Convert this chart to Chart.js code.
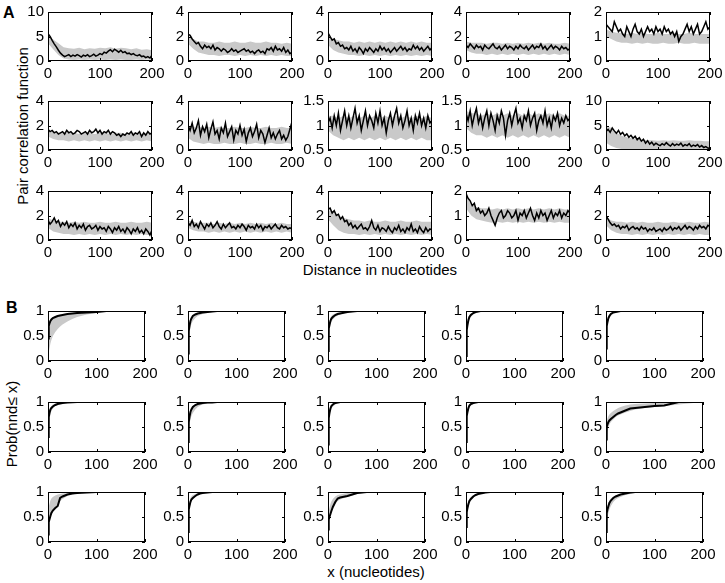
<!DOCTYPE html>
<html><head><meta charset="utf-8">
<script src="https://cdn.jsdelivr.net/npm/chart.js@4/dist/chart.umd.min.js"></script>
<style>
html,body{margin:0;padding:0;background:#fff;}
body{width:725px;height:583px;position:relative;overflow:hidden;font-family:"Liberation Sans",Arial,Helvetica,sans-serif;color:#000;}
canvas{position:absolute;}
.t{position:absolute;font-size:15px;line-height:15px;white-space:nowrap;}
.lab{position:absolute;font-size:16px;line-height:16px;font-weight:bold;}
.rot{transform:translate(-50%,-50%) rotate(-90deg);}
.ctr{transform:translate(-50%,-50%);}
</style></head><body>
<div class="lab" style="left:3px;top:5px;">A</div>
<div class="lab" style="left:6px;top:300px;">B</div>
<div class="t rot" style="left:22px;top:126px;">Pair correlation function</div>
<div class="t rot" style="left:11px;top:424px;">Prob(nnd≤ x)</div>
<div class="t ctr" style="left:380px;top:269px;">Distance in nucleotides</div>
<div class="t ctr" style="left:376px;top:571px;">x (nucleotides)</div>
<script>
// ---------- shared x positions ----------
const aX = [0,4,8,12,16,20,24,28,32,36,40,44,48,52,56,60,64,68,72,76,80,84,88,92,96,100,104,108,112,116,120,124,128,132,136,140,144,148,152,156,160,164,168,172,176,180,184,188,192,196,200];
const bandX = [0,10,20,30,40,50,60,70,80,90,100,110,120,130,140,150,160,170,180,190,200];
const bX = [0,1,2,3,5,7,10,15,20,25,30,40,50,60,80,100,120,150,180,200];
const xTicks = [0,100,200];

// ---------- panel A: y ranges ----------
const aYMin = [0,0,0,0,0, 0,0,0.5,0.5,0, 0,0,0,0,0];
const aYMax = [10,4,4,4,2, 4,4,1.5,1.5,10, 4,4,4,2,4];

// ---------- panel A data ----------
const a1Line = [5.6,5.0,4.2,3.5,2.9,2.2,1.6,1.2,0.9,1.1,1.3,0.9,1.2,1.0,1.3,1.1,0.8,1.2,1.0,1.3,0.9,1.1,1.4,1.0,1.2,1.5,1.3,1.8,1.6,2.0,2.3,1.9,2.4,2.1,1.8,2.2,1.7,1.9,1.5,1.6,1.3,1.5,1.2,1.1,1.3,0.9,1.0,0.7,0.9,0.6,1.2];
const a1Hi = [5.0,4.4,3.6,2.8,2.6,2.5,2.7,2.4,2.6,2.5,2.7,2.6,2.8,2.5,2.7,2.6,2.4,2.6,2.3,2.4,2.2];
const a1Lo = [3.6,2.4,1.2,0.5,0.3,0.2,0.3,0.2,0.3,0.2,0.3,0.2,0.3,0.2,0.3,0.2,0.2,0.3,0.2,0.3,0.2];

const a2Line = [2.2,2.1,1.8,1.6,1.4,1.5,1.2,1.0,1.3,1.1,1.2,1.0,1.3,0.9,1.1,1.0,0.8,1.0,0.9,0.7,0.8,1.0,0.8,0.9,0.7,0.8,0.9,1.0,0.8,0.9,0.7,0.8,0.6,0.8,0.9,0.7,0.8,0.6,1.0,0.9,1.1,0.8,1.2,0.9,1.0,0.8,1.1,0.7,0.9,0.6,0.7];
const a2Hi = [2.0,1.8,1.6,1.6,1.5,1.5,1.6,1.5,1.5,1.6,1.5,1.5,1.6,1.5,1.5,1.6,1.5,1.5,1.4,1.5,1.4];
const a2Lo = [1.4,1.0,0.7,0.6,0.5,0.5,0.4,0.5,0.5,0.4,0.5,0.4,0.5,0.4,0.5,0.4,0.5,0.4,0.5,0.4,0.4];

const a3Line = [2.3,2.0,1.7,1.8,1.4,1.5,1.2,1.3,1.0,1.1,0.9,1.2,0.8,1.0,0.7,1.1,0.9,0.6,1.0,0.8,1.1,0.9,0.7,1.0,0.8,1.2,0.9,1.1,0.8,1.0,0.7,0.9,1.1,0.8,1.0,1.2,0.9,1.1,0.8,1.0,0.9,1.3,1.0,1.2,0.9,1.1,0.8,1.0,1.2,0.9,1.1];
const a3Hi = [2.1,1.8,1.7,1.6,1.6,1.5,1.6,1.5,1.6,1.5,1.6,1.5,1.6,1.5,1.6,1.5,1.6,1.5,1.6,1.5,1.5];
const a3Lo = [1.3,0.9,0.7,0.6,0.5,0.5,0.4,0.5,0.4,0.5,0.4,0.5,0.4,0.5,0.4,0.5,0.4,0.5,0.4,0.5,0.4];

const a4Line = [1.3,1.1,1.4,1.2,1.0,1.3,1.1,1.2,0.9,1.3,1.1,1.0,1.2,1.4,1.1,1.0,1.2,0.9,1.1,1.3,1.0,1.2,1.1,0.9,1.2,1.0,1.3,1.1,1.0,1.2,0.9,1.1,1.3,1.0,1.2,1.1,1.4,1.0,1.2,0.9,1.1,1.3,1.0,1.2,1.1,0.9,1.2,1.0,1.1,0.9,1.0];
const a4Hi = [1.6,1.5,1.5,1.5,1.4,1.5,1.5,1.4,1.5,1.4,1.5,1.4,1.5,1.4,1.5,1.4,1.5,1.4,1.4,1.5,1.4];
const a4Lo = [0.9,0.7,0.6,0.6,0.5,0.6,0.5,0.6,0.5,0.6,0.5,0.6,0.5,0.6,0.5,0.6,0.5,0.6,0.5,0.6,0.5];

const a5Line = [1.5,1.4,1.3,1.2,1.6,1.4,1.2,1.3,1.1,1.0,1.4,1.2,1.0,1.3,1.5,1.2,1.1,1.3,1.0,1.2,1.4,1.2,1.3,1.1,1.4,1.2,1.3,1.1,1.4,1.2,1.3,1.1,1.2,1.0,1.2,0.8,1.0,1.1,1.3,1.5,1.2,1.4,1.1,1.3,1.5,1.1,1.2,1.4,1.6,1.3,1.4];
const a5Hi = [1.3,1.2,1.15,1.15,1.1,1.15,1.1,1.15,1.1,1.1,1.15,1.1,1.1,1.15,1.1,1.1,1.15,1.1,1.1,1.1,1.1];
const a5Lo = [1.0,0.9,0.8,0.75,0.75,0.7,0.75,0.7,0.75,0.7,0.7,0.75,0.7,0.7,0.75,0.7,0.7,0.75,0.7,0.7,0.7];

const a6Line = [1.7,1.5,1.6,1.4,1.5,1.3,1.4,1.5,1.3,1.6,1.4,1.5,1.3,1.4,1.6,1.5,1.3,1.4,1.5,1.3,1.6,1.4,1.5,1.7,1.4,1.6,1.3,1.5,1.4,1.6,1.3,1.5,1.4,1.2,1.3,1.1,1.3,1.2,1.4,1.3,1.5,1.2,1.4,1.3,1.5,1.1,1.4,1.2,1.5,1.3,1.4];
const a6Hi = [1.6,1.5,1.4,1.4,1.4,1.4,1.3,1.4,1.4,1.3,1.4,1.4,1.3,1.4,1.4,1.3,1.4,1.4,1.3,1.4,1.4];
const a6Lo = [1.1,0.9,0.8,0.8,0.7,0.8,0.7,0.8,0.7,0.8,0.7,0.8,0.7,0.8,0.7,0.8,0.7,0.8,0.7,0.8,0.7];

const a7Line = [2.0,1.6,2.2,1.4,1.8,2.4,1.2,1.9,1.5,2.1,1.0,1.7,2.3,1.3,1.6,0.9,1.8,1.4,2.2,1.1,1.5,1.9,0.8,1.6,1.3,2.0,1.2,1.7,0.7,1.4,1.8,1.1,1.5,2.1,1.0,1.6,1.3,0.6,1.2,1.8,1.0,1.4,0.9,1.3,1.6,0.9,1.2,0.8,1.1,1.7,2.3];
const a7Hi = [2.0,1.9,1.9,1.8,1.9,1.8,1.9,1.8,1.8,1.9,1.8,1.8,1.9,1.8,1.8,1.9,1.8,1.8,1.9,1.8,1.8];
const a7Lo = [1.0,0.7,0.6,0.5,0.6,0.5,0.5,0.6,0.5,0.5,0.6,0.5,0.5,0.6,0.5,0.5,0.6,0.5,0.5,0.6,0.5];

const a8Line = [1.05,1.15,0.95,1.2,1.0,1.25,0.9,1.1,1.3,1.0,1.2,0.95,1.15,1.35,1.05,1.2,0.9,1.1,1.3,1.0,1.2,1.1,0.95,1.25,1.05,1.3,1.0,1.15,0.85,1.1,1.25,1.0,1.2,1.35,1.05,1.2,0.95,1.1,1.3,1.0,1.15,0.9,1.2,1.05,1.25,1.0,1.15,0.95,1.2,1.05,1.1];
const a8Hi = [1.2,1.2,1.15,1.2,1.15,1.2,1.15,1.2,1.15,1.2,1.15,1.2,1.15,1.2,1.15,1.2,1.15,1.2,1.15,1.2,1.15];
const a8Lo = [0.9,0.8,0.75,0.7,0.75,0.7,0.75,0.7,0.75,0.7,0.75,0.7,0.75,0.7,0.75,0.7,0.75,0.7,0.75,0.7,0.7];

const a9Line = [1.25,1.1,1.3,1.0,1.2,1.35,1.05,1.2,0.95,1.15,1.3,1.0,1.25,1.1,0.9,1.2,1.05,1.3,1.15,0.8,1.1,1.25,1.0,1.2,1.35,1.05,1.15,0.95,1.2,1.1,1.3,1.0,1.15,1.25,0.9,1.1,1.2,1.05,1.3,1.0,1.15,0.95,1.2,1.1,1.25,1.0,1.15,1.05,1.2,1.1,1.15];
const a9Hi = [1.3,1.25,1.25,1.2,1.25,1.2,1.25,1.2,1.25,1.2,1.25,1.2,1.25,1.2,1.25,1.2,1.25,1.2,1.25,1.2,1.2];
const a9Lo = [0.95,0.85,0.8,0.8,0.75,0.8,0.75,0.8,0.75,0.8,0.75,0.8,0.75,0.8,0.75,0.8,0.75,0.8,0.75,0.8,0.75];

const a10Line = [3.8,4.2,3.6,4.5,3.9,3.4,4.0,3.2,3.6,2.9,3.3,2.6,3.0,2.4,2.8,2.1,2.5,1.8,2.2,1.4,1.9,1.2,1.6,1.0,1.4,1.1,0.9,1.3,1.0,1.5,1.1,0.8,1.3,0.9,1.2,1.0,1.4,0.8,1.1,0.9,1.3,0.7,1.0,0.8,1.1,0.6,0.9,0.5,0.7,0.4,0.3];
const a10Hi = [5.0,4.5,3.5,2.9,2.6,2.4,2.2,2.1,2.0,2.0,1.9,2.0,1.9,2.0,1.9,1.9,2.0,1.9,1.9,1.8,1.8];
const a10Lo = [1.5,0.8,0.4,0.2,0.1,0.1,0.1,0.1,0.1,0.1,0.1,0.1,0.1,0.1,0.1,0.1,0.1,0.1,0.1,0.1,0.1];

const a11Line = [1.6,1.3,1.5,1.8,1.4,1.6,1.1,1.4,1.2,1.5,1.0,1.3,1.1,1.4,0.9,1.2,1.0,1.3,0.8,1.1,1.2,0.9,1.0,1.2,0.8,1.1,0.9,1.0,0.7,1.1,0.9,0.6,1.0,0.8,1.1,0.7,0.9,0.6,1.0,0.8,0.5,0.9,0.7,1.0,0.6,0.8,0.5,0.9,0.7,0.4,0.8];
const a11Hi = [1.8,1.6,1.5,1.5,1.4,1.5,1.4,1.5,1.4,1.4,1.5,1.4,1.4,1.5,1.4,1.4,1.5,1.4,1.4,1.5,1.4];
const a11Lo = [1.0,0.7,0.6,0.5,0.5,0.4,0.5,0.4,0.5,0.4,0.5,0.4,0.5,0.4,0.5,0.4,0.5,0.4,0.5,0.4,0.4];

const a12Line = [1.4,1.2,1.6,1.1,1.3,1.0,1.5,1.2,0.9,1.3,1.1,1.4,1.0,1.2,1.5,1.1,0.9,1.3,1.0,1.2,1.4,1.0,1.1,0.9,1.2,1.0,1.3,1.1,0.8,1.2,1.0,1.1,0.9,1.3,1.0,1.2,0.8,1.1,1.0,1.2,0.9,1.1,1.3,1.0,0.9,1.2,1.0,1.1,0.9,1.0,0.9];
const a12Hi = [1.6,1.5,1.4,1.4,1.4,1.3,1.4,1.3,1.4,1.3,1.4,1.3,1.4,1.3,1.4,1.3,1.4,1.3,1.4,1.3,1.3];
const a12Lo = [1.0,0.8,0.7,0.7,0.6,0.7,0.6,0.7,0.6,0.7,0.6,0.7,0.6,0.7,0.6,0.7,0.6,0.7,0.6,0.7,0.6];

const a13Line = [2.5,2.6,2.2,2.4,2.0,2.1,1.7,1.9,1.5,1.6,1.2,1.4,1.0,1.2,0.9,1.1,1.3,0.9,1.0,0.8,1.1,1.6,1.0,0.8,1.2,0.7,1.0,0.9,0.7,1.1,0.8,0.6,1.0,0.8,1.2,0.7,0.9,0.6,1.0,0.8,1.3,0.7,0.9,0.6,1.1,0.8,0.6,1.0,0.7,0.9,0.8];
const a13Hi = [2.5,2.2,2.0,1.8,1.7,1.6,1.6,1.5,1.6,1.5,1.5,1.6,1.5,1.5,1.6,1.5,1.5,1.6,1.5,1.5,1.5];
const a13Lo = [1.7,1.2,0.8,0.6,0.5,0.5,0.4,0.5,0.4,0.5,0.4,0.5,0.4,0.5,0.4,0.5,0.4,0.5,0.4,0.5,0.4];

const a14Line = [1.9,1.7,1.6,1.4,1.5,1.2,1.3,1.1,1.2,1.0,1.1,1.3,1.0,0.8,0.6,0.9,1.1,1.2,0.9,1.0,1.2,1.1,0.9,1.0,1.2,0.8,1.1,1.0,1.2,0.9,1.1,1.3,1.0,0.8,1.1,0.9,1.2,1.0,1.1,0.8,1.0,1.2,0.9,1.1,1.0,1.2,0.9,1.1,1.0,1.2,1.1];
const a14Hi = [1.8,1.5,1.35,1.3,1.3,1.25,1.3,1.25,1.3,1.25,1.3,1.25,1.3,1.25,1.3,1.25,1.3,1.25,1.3,1.25,1.25];
const a14Lo = [1.3,1.0,0.85,0.8,0.75,0.7,0.75,0.7,0.75,0.7,0.75,0.7,0.75,0.7,0.75,0.7,0.75,0.7,0.75,0.7,0.7];

const a15Line = [2.0,1.7,1.4,1.2,1.3,1.1,1.2,0.9,1.1,1.0,1.2,0.8,1.0,1.1,0.9,1.0,0.8,1.1,0.9,1.0,0.7,0.9,0.8,1.0,0.7,0.8,0.9,0.7,1.0,0.8,0.9,1.1,0.8,1.0,0.9,1.1,0.8,1.0,1.2,0.9,1.1,1.0,0.8,1.1,0.9,1.2,1.0,1.1,0.9,1.2,1.1];
const a15Hi = [1.9,1.6,1.5,1.5,1.4,1.5,1.4,1.5,1.4,1.4,1.5,1.4,1.4,1.5,1.4,1.4,1.5,1.4,1.4,1.5,1.4];
const a15Lo = [1.2,0.8,0.6,0.5,0.5,0.4,0.5,0.4,0.5,0.4,0.5,0.4,0.5,0.4,0.5,0.4,0.5,0.4,0.5,0.4,0.4];

// ---------- panel B data (cumulative probabilities at bX) ----------
const b1Line = [0.45,0.6,0.7,0.75,0.8,0.83,0.86,0.88,0.9,0.91,0.92,0.94,0.95,0.96,0.97,0.98,1.0,null,null,null];
const b1Lo = [0,0.1,0.2,0.25,0.35,0.42,0.5,0.58,0.64,0.69,0.73,0.79,0.84,0.88,0.93,0.96,0.98,0.99,1,1];
const b1Hi = [0.55,0.65,0.72,0.77,0.82,0.85,0.87,0.9,0.92,0.93,0.94,0.95,0.96,0.97,0.98,0.99,1,1,1,1];

const b2Line = [0.15,0.45,0.6,0.7,0.8,0.85,0.9,0.93,0.95,0.96,0.97,0.98,0.99,1,1,1,1,null,null,null];
const b2Lo = [0,0.3,0.45,0.55,0.67,0.74,0.8,0.86,0.9,0.92,0.94,0.96,0.98,0.99,1,1,1,1,1,1];
const b2Hi = [0.3,0.55,0.68,0.76,0.84,0.88,0.92,0.95,0.96,0.97,0.98,0.99,1,1,1,1,1,1,1,1];

const b3Line = [0.2,0.5,0.65,0.72,0.8,0.85,0.88,0.92,0.94,0.95,0.96,0.98,0.99,1,1,1,null,null,null,null];
const b3Lo = [0,0.35,0.5,0.6,0.72,0.78,0.83,0.88,0.91,0.93,0.95,0.97,0.98,0.99,1,1,1,1,1,1];
const b3Hi = [0.3,0.6,0.72,0.8,0.86,0.9,0.93,0.95,0.97,0.98,0.99,1,1,1,1,1,1,1,1,1];

const b4Line = [0.1,0.45,0.62,0.72,0.82,0.88,0.92,0.96,0.98,0.99,1,1,null,null,null,null,null,null,null,null];
const b4Lo = [0,0.35,0.5,0.62,0.75,0.82,0.88,0.93,0.96,0.98,0.99,1,1,1,1,1,1,1,1,1];
const b4Hi = [0.2,0.55,0.7,0.78,0.87,0.92,0.95,0.98,0.99,1,1,1,1,1,1,1,1,1,1,1];

const b5Line = [0.25,0.55,0.7,0.78,0.86,0.9,0.94,0.97,0.98,0.99,1,1,null,null,null,null,null,null,null,null];
const b5Lo = [0,0.45,0.6,0.7,0.8,0.86,0.9,0.95,0.97,0.98,0.99,1,1,1,1,1,1,1,1,1];
const b5Hi = [0.3,0.6,0.74,0.82,0.89,0.93,0.96,0.98,0.99,1,1,1,1,1,1,1,1,1,1,1];

const b6Line = [0.3,0.6,0.7,0.78,0.85,0.88,0.91,0.94,0.96,0.97,0.98,0.99,0.995,1,1,null,null,null,null,null];
const b6Lo = [0,0.4,0.55,0.65,0.75,0.82,0.87,0.92,0.95,0.97,0.98,0.99,1,1,1,1,1,1,1,1];
const b6Hi = [0.35,0.65,0.76,0.83,0.89,0.92,0.95,0.97,0.98,0.99,1,1,1,1,1,1,1,1,1,1];

const b7Line = [0.2,0.45,0.6,0.7,0.8,0.85,0.9,0.94,0.96,0.97,0.98,0.99,0.99,1,1,1,1,null,null,null];
const b7Lo = [0,0.3,0.45,0.55,0.65,0.72,0.78,0.85,0.9,0.93,0.95,0.97,0.98,0.99,1,1,1,1,1,1];
const b7Hi = [0.3,0.55,0.68,0.76,0.84,0.88,0.92,0.95,0.97,0.98,0.99,1,1,1,1,1,1,1,1,1];

const b8Line = [0.15,0.5,0.68,0.78,0.87,0.92,0.95,0.98,0.99,1,1,1,null,null,null,null,null,null,null,null];
const b8Lo = [0,0.4,0.58,0.68,0.8,0.86,0.91,0.95,0.97,0.98,0.99,1,1,1,1,1,1,1,1,1];
const b8Hi = [0.25,0.6,0.75,0.83,0.9,0.94,0.97,0.99,1,1,1,1,1,1,1,1,1,1,1,1];

const b9Line = [0.2,0.55,0.72,0.8,0.88,0.93,0.96,0.98,0.99,1,1,null,null,null,null,null,null,null,null,null];
const b9Lo = [0,0.45,0.62,0.72,0.83,0.88,0.93,0.96,0.98,0.99,1,1,1,1,1,1,1,1,1,1];
const b9Hi = [0.3,0.62,0.77,0.85,0.91,0.95,0.97,0.99,1,1,1,1,1,1,1,1,1,1,1,1];

const b10Line = [0.25,0.42,0.5,0.55,0.6,0.63,0.66,0.7,0.74,0.77,0.79,0.83,0.87,0.88,0.9,0.92,0.93,1,null,null];
const b10Lo = [0,0.25,0.35,0.42,0.5,0.55,0.6,0.65,0.7,0.73,0.75,0.79,0.82,0.85,0.88,0.9,0.92,0.95,0.98,1];
const b10Hi = [0.4,0.55,0.62,0.67,0.72,0.75,0.78,0.82,0.85,0.88,0.9,0.93,0.95,0.96,0.97,0.98,0.99,1,1,1];

const b11Line = [0.15,0.3,0.4,0.45,0.52,0.58,0.63,0.68,0.72,0.88,0.91,0.95,0.97,0.98,0.99,1,1,null,null,null];
const b11Lo = [0,0.25,0.35,0.42,0.5,0.56,0.62,0.7,0.76,0.82,0.86,0.92,0.95,0.97,0.99,1,1,1,1,1];
const b11Hi = [0.35,0.6,0.7,0.76,0.83,0.87,0.9,0.93,0.95,0.96,0.97,0.98,0.99,1,1,1,1,1,1,1];

const b12Line = [0.2,0.5,0.65,0.72,0.8,0.85,0.88,0.92,0.95,0.97,0.98,0.99,1,1,null,null,null,null,null,null];
const b12Lo = [0,0.4,0.55,0.65,0.75,0.81,0.86,0.91,0.94,0.96,0.97,0.99,1,1,1,1,1,1,1,1];
const b12Hi = [0.3,0.6,0.74,0.81,0.88,0.91,0.94,0.96,0.98,0.99,1,1,1,1,1,1,1,1,1,1];

const b13Line = [0.25,0.38,0.45,0.5,0.56,0.62,0.7,0.8,0.87,0.89,0.9,0.92,0.95,0.98,1,1,1,1,1,null];
const b13Lo = [0,0.3,0.4,0.46,0.54,0.6,0.67,0.76,0.82,0.85,0.87,0.9,0.93,0.96,0.99,1,1,1,1,1];
const b13Hi = [0.35,0.55,0.63,0.68,0.76,0.81,0.86,0.91,0.94,0.95,0.96,0.98,0.99,1,1,1,1,1,1,1];

const b14Line = [0.3,0.5,0.6,0.68,0.76,0.82,0.86,0.91,0.94,0.96,0.97,0.99,1,1,null,null,null,null,null,null];
const b14Lo = [0,0.4,0.52,0.6,0.7,0.77,0.82,0.88,0.92,0.95,0.96,0.98,0.99,1,1,1,1,1,1,1];
const b14Hi = [0.35,0.58,0.68,0.75,0.82,0.86,0.9,0.94,0.96,0.97,0.98,0.99,1,1,1,1,1,1,1,1];

const b15Line = [0.2,0.45,0.58,0.65,0.72,0.78,0.83,0.88,0.91,0.93,0.95,0.97,0.99,1,1,null,null,null,null,null];
const b15Lo = [0,0.3,0.4,0.48,0.58,0.65,0.72,0.8,0.85,0.88,0.9,0.94,0.96,0.98,0.99,1,1,1,1,1];
const b15Hi = [0.3,0.55,0.66,0.72,0.79,0.83,0.87,0.91,0.93,0.95,0.96,0.98,0.99,1,1,1,1,1,1,1];

const bYTicks = [0,0.5,1];

// ---------- layout ----------
const colLeft = [48,188,328,466,606];
const aRowTop = [9,98,188];
const bRowTop = [308,399,489];
const aW = 104, aH = 52, bW = 97, bH = 53;
const BAND = '#c9c9c9';
const FONT = '"Liberation Sans", Arial, Helvetica, sans-serif';

const boxPlugin = {
  id: 'boxTicks',
  afterDraw(chart) {
    const {ctx, chartArea: a, scales} = chart;
    ctx.save();
    ctx.strokeStyle = '#000';
    ctx.lineWidth = 1;
    ctx.strokeRect(a.left + 0.5, a.top + 0.5, a.right - a.left - 1, a.bottom - a.top - 1);
    const tl = 3;
    ctx.beginPath();
    scales.x.ticks.forEach(t => {
      const px = Math.round(scales.x.getPixelForValue(t.value)) + 0.5;
      ctx.moveTo(px, a.bottom); ctx.lineTo(px, a.bottom - tl);
      ctx.moveTo(px, a.top); ctx.lineTo(px, a.top + tl);
    });
    scales.y.ticks.forEach(t => {
      const py = Math.round(scales.y.getPixelForValue(t.value)) + 0.5;
      ctx.moveTo(a.left, py); ctx.lineTo(a.left + tl, py);
      ctx.moveTo(a.right, py); ctx.lineTo(a.right - tl, py);
    });
    ctx.stroke();
    ctx.restore();
  }
};

function pts(xs, ys) { return ys.map((y, i) => ({x: xs[i], y})); }

function makePanel(left, top, w, h, ymin, ymax, yTicks, lineX, line, bandXs, lo, hi, lw) {
  const L = 44, T = 10, R = 24, B = 28;
  const c = document.createElement('canvas');
  c.width = L + w + R; c.height = T + h + B;
  c.style.left = (left - L) + 'px'; c.style.top = (top - T) + 'px';
  document.body.appendChild(c);
  const tickFont = {family: FONT, size: 15};
  const fmt = v => String(v);
  new Chart(c, {
    type: 'line',
    data: {datasets: [
      {data: pts(lineX, line), borderColor: '#000', borderWidth: lw, pointRadius: 0, fill: false, order: 0, spanGaps: false},
      {data: pts(bandXs, lo), borderWidth: 0, borderColor: BAND, pointRadius: 0, fill: false, order: 2},
      {data: pts(bandXs, hi), borderWidth: 0, borderColor: BAND, backgroundColor: BAND, pointRadius: 0, fill: '-1', order: 1}
    ]},
    options: {
      responsive: false, animation: false, devicePixelRatio: 1,
      layout: {padding: {top: T, right: R, left: 0, bottom: 0}},
      plugins: {legend: {display: false}, tooltip: {enabled: false}},
      elements: {line: {tension: 0}},
      scales: {
        x: {type: 'linear', min: 0, max: 200,
            afterFit: s => { s.height = B; },
            afterBuildTicks: s => { s.ticks = xTicks.map(v => ({value: v})); },
            grid: {display: false, drawTicks: false}, border: {display: false},
            ticks: {font: tickFont, color: '#000', padding: 4, maxRotation: 0, autoSkip: false, source: 'data', callback: fmt}},
        y: {type: 'linear', min: ymin, max: ymax,
            afterFit: s => { s.width = L; },
            afterBuildTicks: s => { s.ticks = yTicks.map(v => ({value: v})); },
            grid: {display: false, drawTicks: false}, border: {display: false},
            ticks: {font: tickFont, color: '#000', padding: 4, autoSkip: false, source: 'data', callback: fmt}}
      }
    },
    plugins: [boxPlugin]
  });
}

const aLines = [a1Line,a2Line,a3Line,a4Line,a5Line,a6Line,a7Line,a8Line,a9Line,a10Line,a11Line,a12Line,a13Line,a14Line,a15Line];
const aLos = [a1Lo,a2Lo,a3Lo,a4Lo,a5Lo,a6Lo,a7Lo,a8Lo,a9Lo,a10Lo,a11Lo,a12Lo,a13Lo,a14Lo,a15Lo];
const aHis = [a1Hi,a2Hi,a3Hi,a4Hi,a5Hi,a6Hi,a7Hi,a8Hi,a9Hi,a10Hi,a11Hi,a12Hi,a13Hi,a14Hi,a15Hi];
const bLines = [b1Line,b2Line,b3Line,b4Line,b5Line,b6Line,b7Line,b8Line,b9Line,b10Line,b11Line,b12Line,b13Line,b14Line,b15Line];
const bLos = [b1Lo,b2Lo,b3Lo,b4Lo,b5Lo,b6Lo,b7Lo,b8Lo,b9Lo,b10Lo,b11Lo,b12Lo,b13Lo,b14Lo,b15Lo];
const bHis = [b1Hi,b2Hi,b3Hi,b4Hi,b5Hi,b6Hi,b7Hi,b8Hi,b9Hi,b10Hi,b11Hi,b12Hi,b13Hi,b14Hi,b15Hi];

for (let i = 0; i < 15; i++) {
  const r = Math.floor(i / 5), col = i % 5;
  const mn = aYMin[i], mx = aYMax[i];
  makePanel(colLeft[col], aRowTop[r], aW, aH, mn, mx, [mn, (mn + mx) / 2, mx], aX, aLines[i], bandX, aLos[i], aHis[i], 1.5);
  makePanel(colLeft[col], bRowTop[r], bW, bH, 0, 1, bYTicks, bX, bLines[i], bX, bLos[i], bHis[i], 2);
}
</script>
</body></html>
